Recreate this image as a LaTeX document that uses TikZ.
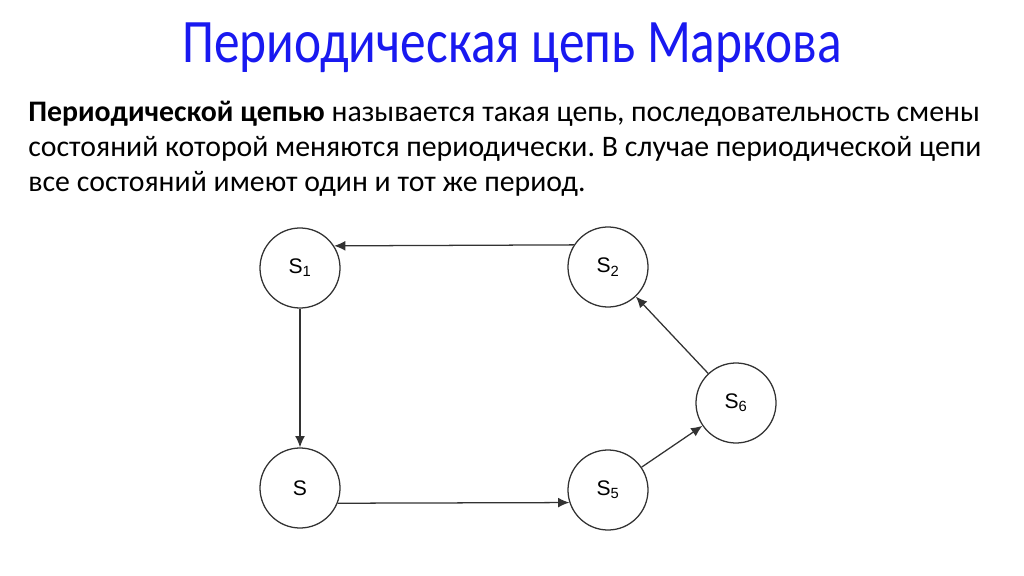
\documentclass[tikz,border=0pt]{standalone}
\usepackage{fontspec}
\setmainfont{Carlito}
\newfontfamily\statefont{Liberation Sans}
\usetikzlibrary{arrows.meta}
\definecolor{titleblue}{RGB}{25,25,240}
\definecolor{ringgray}{RGB}{50,50,50}
\frenchspacing
\begin{document}
\begin{tikzpicture}[x=0.025cm, y=-0.025cm,
    state/.style={draw=ringgray, line width=0.9pt, circle, minimum size=2cm, inner sep=0pt,
                  font=\statefont\fontsize{15}{15}\selectfont},
    link/.style={-{Latex[length=8pt,width=7pt]}, line width=0.9pt, draw=ringgray},
    textline/.style={anchor=base west, inner sep=0pt, font=\fontsize{21.2}{24}\selectfont}]
    \useasboundingbox (0,0) rectangle (1024,576);
    % title and text
    \node[text=titleblue, font=\fontsize{44}{44}\selectfont, xscale=0.83] (title) at (512,48) {Периодическая цепь Маркова};
    \node[textline] (line1) at (28,122) {\textbf{Периодической цепью} называется такая цепь, последовательность смены};
    \node[textline] (line2) at (28,157) {состояний которой меняются периодически. В случае периодической цепи};
    \node[textline] (line3) at (28,192) {все состояний имеют один и тот же период.};
    % states
    \node[state] (s1) at (300,268) {S\textsubscript{1}};
    \node[state] (s2) at (608,267) {S\textsubscript{2}};
    \node[state] (s)  at (300,488) {S};
    \node[state] (s5) at (608,490) {S\textsubscript{5}};
    \node[state] (s6) at (736,403) {S\textsubscript{6}};
    % transitions
    \draw[link] (s2.147) -- (s1.33);
    \draw[link] (s1) -- (s);
    \draw[link] (s.-22) -- (s5.198);
    \draw[link] (s5) -- (s6);
    \draw[link] (s6) -- (s2);
\end{tikzpicture}
\end{document}
